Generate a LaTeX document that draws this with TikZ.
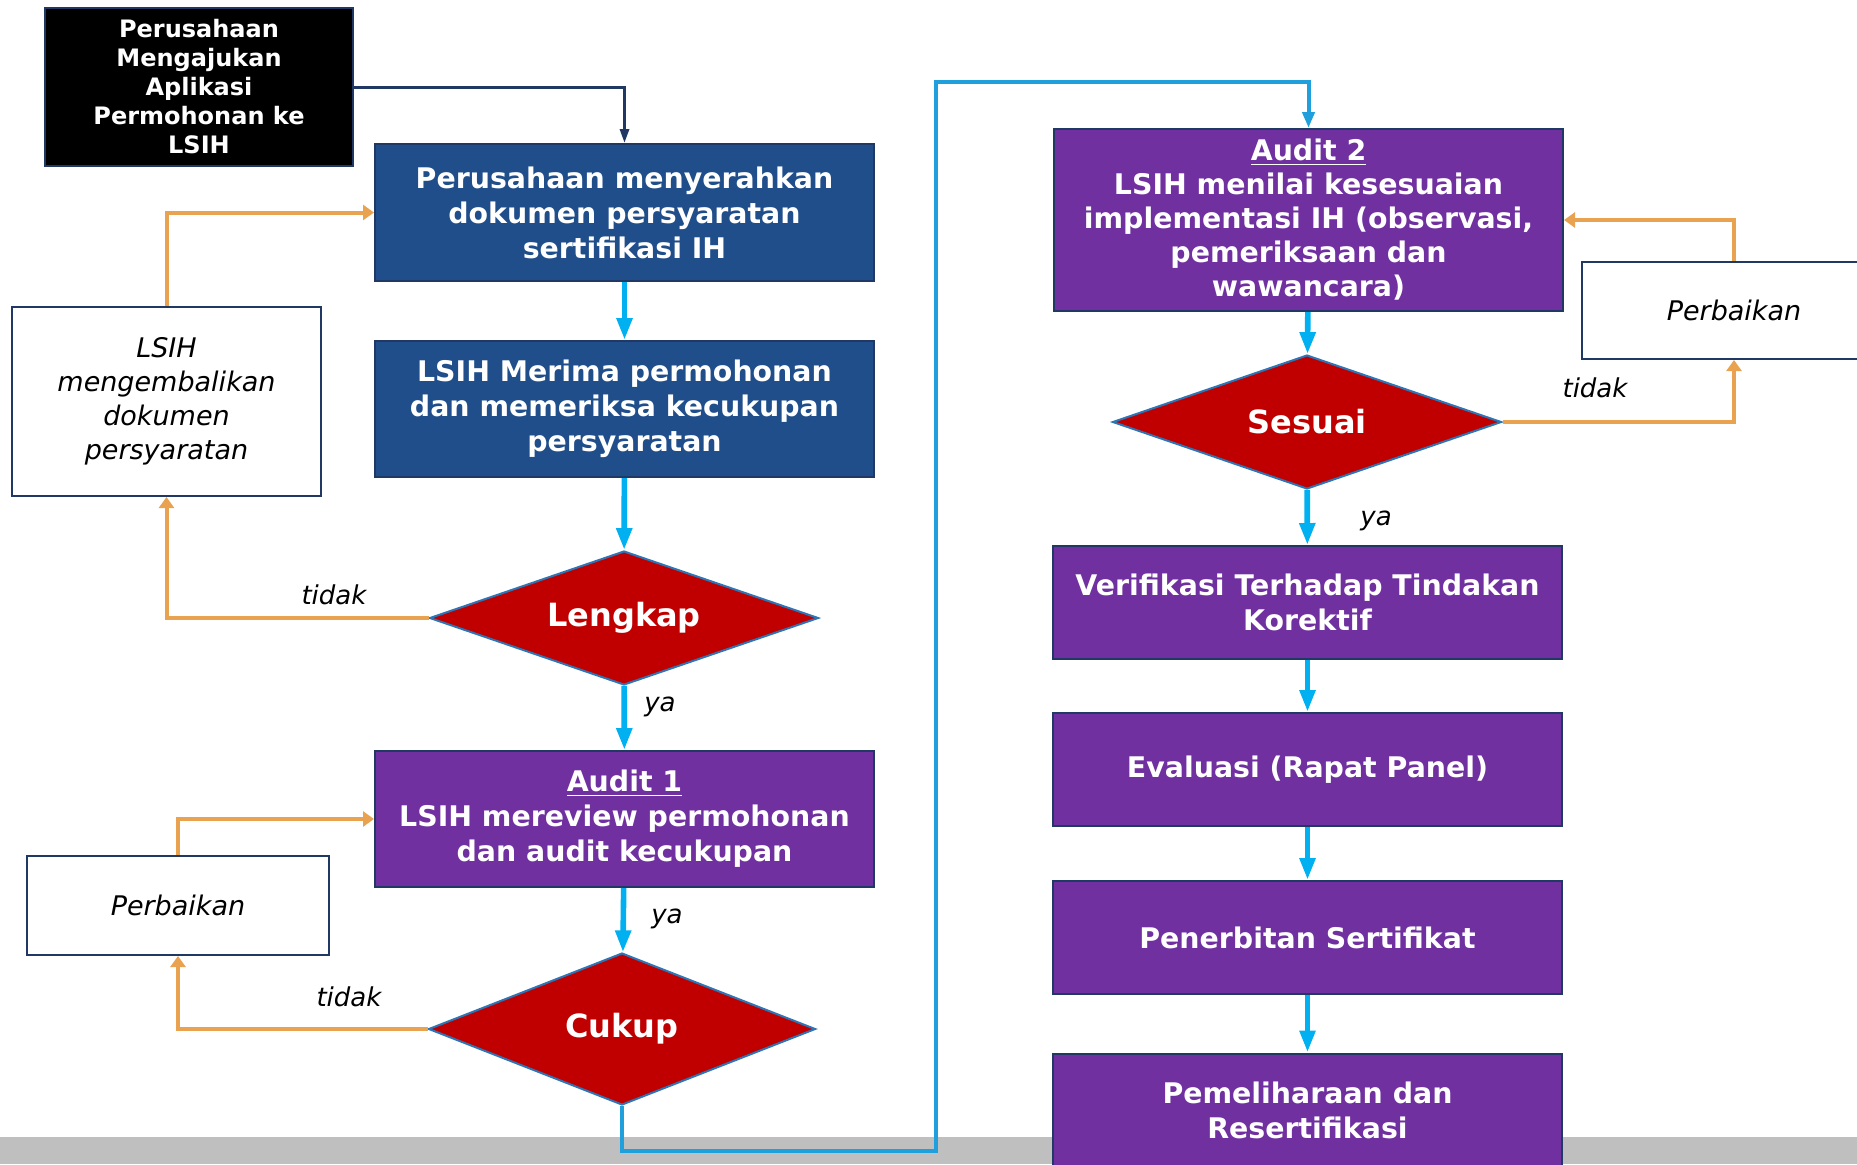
\documentclass[tikz,border=0pt]{standalone}
\usepackage{fontspec}
\setmainfont{DejaVu Sans}
\usetikzlibrary{shapes.geometric,arrows.meta}
\definecolor{boxblue}{HTML}{1F4E8A}
\definecolor{boxpurple}{HTML}{7030A0}
\definecolor{edgenavy}{HTML}{1F3864}
\definecolor{decred}{HTML}{C00000}
\definecolor{decedge}{HTML}{2E75B6}
\definecolor{flowcyan}{HTML}{00B0F0}
\definecolor{loopblue}{HTML}{1F9FDB}
\definecolor{backorange}{HTML}{E9A24F}
\definecolor{bargray}{HTML}{BFBFBF}
\tikzstyle{process}=[draw=edgenavy, line width=1pt, text=white, align=center, inner sep=2pt,
  font=\bfseries\fontsize{14.2}{17.5}\selectfont]
\tikzstyle{decision}=[diamond, draw=decedge, line width=1pt, fill=decred, text=white, inner sep=0pt,
  shape aspect=2.9, font=\bfseries\fontsize{16}{19}\selectfont]
\tikzstyle{note}=[draw=edgenavy, line width=1pt, fill=white, align=center, inner sep=2pt,
  font=\itshape\fontsize{13.5}{17}\selectfont]
\tikzstyle{answer}=[font=\itshape\fontsize{13}{16}\selectfont, inner sep=0pt]
\tikzstyle{yes}=[flowcyan, line width=2.8pt, -{Triangle[length=11pt,width=7.5pt]}]
\tikzstyle{no}=[backorange, line width=2pt, -{Triangle[length=5.5pt,width=7.5pt]}]

\begin{document}
\begin{tikzpicture}[x=0.5pt, y=-0.5pt]
	\useasboundingbox (0,0) rectangle (1857,1164);
	\clip (0,0) rectangle (1857,1164);
	\fill[bargray] (0,1137) rectangle (1857,1164);

	\node[process, fill=black, minimum width=154pt, minimum height=79pt,
	  font=\bfseries\fontsize{12}{14.5}\selectfont] (apply) at (199,87)
	  {Perusahaan\\Mengajukan\\Aplikasi\\Permohonan ke\\LSIH};
	\node[process, fill=boxblue, minimum width=249.5pt, minimum height=68.5pt] (submit) at (624.5,212.5)
	  {Perusahaan menyerahkan\\dokumen persyaratan\\sertifikasi IH};
	\node[process, fill=boxblue, minimum width=249.5pt, minimum height=68pt] (receive) at (624.5,409)
	  {LSIH Merima permohonan\\dan memeriksa kecukupan\\persyaratan};
	\node[decision, minimum width=194.5pt, minimum height=67pt] (lengkap) at (624,618) {Lengkap};
	\node[note, minimum width=154.5pt, minimum height=94.5pt] (returndoc) at (166.5,401.5)
	  {LSIH\\mengembalikan\\dokumen\\persyaratan};
	\node[process, fill=boxpurple, minimum width=249.5pt, minimum height=68pt] (audit1) at (624.5,819)
	  {\underline{Audit 1}\\LSIH mereview permohonan\\dan audit kecukupan};
	\node[note, minimum width=151pt, minimum height=49.5pt] (fixone) at (178,905.5) {Perbaikan};
	\node[decision, shape aspect=2.55, minimum width=193.5pt, minimum height=76pt] (cukup) at (622,1029) {Cukup};

	\node[process, fill=boxpurple, minimum width=254.5pt, minimum height=91pt,
	  font=\bfseries\fontsize{14.2}{17}\selectfont] (audit2) at (1308.5,220)
	  {\underline{Audit 2}\\LSIH menilai kesesuaian\\implementasi IH (observasi,\\pemeriksaan dan\\wawancara)};
	\node[decision, minimum width=194.5pt, minimum height=67pt] (sesuai) at (1307,422) {Sesuai};
	\node[note, minimum width=152pt, minimum height=48.5pt] (fixtwo) at (1734,310.5) {Perbaikan};
	\node[process, fill=boxpurple, minimum width=254.5pt, minimum height=56.5pt] (verify) at (1307.5,602.5)
	  {Verifikasi Terhadap Tindakan\\Korektif};
	\node[process, fill=boxpurple, minimum width=254.5pt, minimum height=56.5pt] (panel) at (1307.5,769.5)
	  {Evaluasi (Rapat Panel)};
	\node[process, fill=boxpurple, minimum width=254.5pt, minimum height=56.5pt] (issue) at (1307.5,937.5)
	  {Penerbitan Sertifikat};
	\node[process, fill=boxpurple, minimum width=254.5pt, minimum height=56.5pt] (maintain) at (1307.5,1110)
	  {Pemeliharaan dan\\Resertifikasi};

	\draw[edgenavy, line width=1.5pt, -{Triangle[length=7pt,width=4.5pt]}] (apply.east) -| (submit.north);
	\draw[yes] (submit) -- (receive);
	\draw[yes] (receive) -- (lengkap);
	\draw[yes] (lengkap) -- (audit1);
	\draw[yes] (audit1) -- (cukup);
	\draw[no] (lengkap.west) -| (returndoc.south);
	\draw[no] (returndoc.north) |- (submit.west);
	\draw[no] (cukup.west) -| (fixone.south);
	\draw[no] (fixone.north) |- (audit1.west);

	\coordinate (loopdown) at (936,1151);
	\coordinate (loopup) at (936,82);
	\draw[loopblue, line width=2pt, -{Triangle[length=8pt,width=6pt]}] (cukup.south) |- (loopdown) -- (loopup) -| (audit2.north);

	\draw[yes] (audit2) -- (sesuai);
	\draw[yes] (sesuai) -- (verify);
	\draw[yes] (verify) -- (panel);
	\draw[yes] (panel) -- (issue);
	\draw[yes] (issue) -- (maintain);
	\draw[no] (sesuai.east) -| (fixtwo.south);
	\draw[no] (fixtwo.north) |- (audit2.east);

	\node[answer] (nolengkap) at (334,595) {tidak};
	\node[answer] (yeslengkap) at (660,707) {ya};
	\node[answer] (yesaudit) at (667,919) {ya};
	\node[answer] (nocukup) at (349,997) {tidak};
	\node[answer] (nosesuai) at (1595,388) {tidak};
	\node[answer] (yessesuai) at (1376,521) {ya};
\end{tikzpicture}
\end{document}
